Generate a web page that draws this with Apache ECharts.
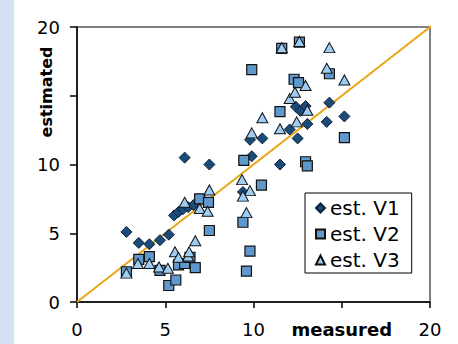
<!DOCTYPE html>
<html>
<head>
<meta charset="utf-8">
<script src="https://cdn.jsdelivr.net/npm/echarts@6/dist/echarts.min.js"></script>
<style>
  html, body { margin: 0; padding: 0; background: #fff; }
  #chart { width: 458px; height: 344px; }
</style>
</head>
<body>
<div id="chart"></div>
<script>
// data: [measured, estimated]
var estV1 = [
  [2.8, 5.1], [3.5, 4.3], [4.1, 4.2], [4.7, 4.5], [5.2, 4.9],
  [5.5, 6.3], [5.75, 6.55], [6.0, 6.75], [6.3, 6.9], [6.6, 7.05],
  [6.1, 10.5], [7.5, 10.0], [9.4, 8.0], [9.8, 11.8], [9.9, 10.6],
  [10.5, 11.9], [11.5, 10.0], [12.05, 12.55], [12.5, 11.9], [12.4, 14.2],
  [12.65, 13.9], [12.95, 14.25], [13.05, 12.95], [14.15, 13.1], [14.3, 14.5],
  [15.15, 13.5]
]
var estV2 = [
  [2.8, 2.2], [3.5, 3.1], [4.1, 3.3], [4.7, 2.3], [5.2, 1.2],
  [5.6, 1.6], [5.75, 2.7], [6.1, 2.8], [6.4, 3.25], [6.7, 2.5],
  [6.95, 7.5], [7.45, 7.25], [7.5, 5.2], [9.4, 5.8], [9.6, 2.25],
  [9.8, 3.7], [9.45, 10.3], [10.45, 8.5], [9.9, 16.9], [11.6, 18.45],
  [12.6, 18.9], [12.3, 16.2], [12.55, 15.95], [14.3, 16.6], [11.5, 13.85],
  [12.95, 10.2], [13.05, 9.9], [15.15, 11.95]
]
var estV3 = [
  [2.8, 2.1], [3.45, 2.8], [4.1, 2.8], [4.65, 2.55], [5.15, 2.45],
  [5.55, 3.65], [5.75, 3.25], [6.3, 3.35], [6.35, 3.65], [6.7, 4.45],
  [6.1, 7.25], [6.95, 6.8], [7.4, 6.6], [7.5, 8.15], [9.35, 8.9],
  [9.8, 8.1], [9.4, 7.7], [9.6, 6.5], [9.9, 12.3], [10.5, 13.4],
  [11.5, 12.6], [12.45, 13.1], [12.05, 14.8], [12.35, 15.25], [12.95, 15.75],
  [13.05, 13.95], [11.6, 18.5], [12.6, 18.95], [14.3, 18.5], [14.15, 17.0],
  [15.15, 16.15]
]
// 1:1 line
var diagLine = [[0, 0], [20.3, 20.3]]
var seriesNames = ['est. V1', 'est. V2', 'est. V3']
var xTickLabels = ['0', '5', '10', 'measured', '20']
var yTickLabels = ['0', '5', '10', '', '20']

var myChart = echarts.init(document.getElementById('chart'), null, { renderer: 'svg' })

var font = 'DejaVu Sans'

var option = {
  animation: false,
  graphic: [
    {
      type: 'rect',
      shape: { x: 0, y: 0, width: 14, height: 344 },
      style: { fill: '#d5e0f5' },
      z: -10,
    },
    {
      type: 'text',
      x: 46,
      y: 92,
      rotation: Math.PI / 2,
      style: {
        text: 'estimated',
        fontFamily: font,
        fontSize: 16,
        fontWeight: 'bold',
        fill: '#000',
        align: 'center',
        verticalAlign: 'middle',
      },
    },
  ],
  grid: {
    left: 77,
    right: 28,
    top: 27,
    bottom: 42,
    show: true,
    borderColor: '#808080',
    borderWidth: 2,
  },
  legend: {
    data: seriesNames,
    orient: 'vertical',
    left: 305,
    top: 193,
    padding: [5, 12, 3, 10],
    itemGap: 6,
    itemWidth: 9,
    itemHeight: 9,
    borderColor: '#000',
    borderWidth: 1,
    backgroundColor: '#fff',
    textStyle: {
      fontFamily: font,
      fontSize: 20,
      lineHeight: 20,
      color: '#000',
    },
  },
  xAxis: {
    type: 'value',
    min: 0,
    max: 20,
    interval: 5,
    splitLine: { show: false },
    axisLine: { show: true, lineStyle: { color: '#000', width: 1.5 } },
    axisTick: { show: true, inside: false, length: 6, lineStyle: { color: '#000', width: 1.5 } },
    axisLabel: {
      margin: 18,
      fontFamily: font,
      fontSize: 18,
      color: '#000',
      formatter: function (v) {
        var s = xTickLabels[Math.round(v / 5)]
        return v === 15 ? '{b|' + s + '}' : s
      },
      rich: {
        b: { fontFamily: font, fontSize: 18, fontWeight: 'bold', color: '#000' },
      },
    },
  },
  yAxis: {
    type: 'value',
    min: 0,
    max: 20,
    interval: 5,
    splitLine: { show: false },
    axisLine: { show: true, lineStyle: { color: '#000', width: 1.5 } },
    axisTick: { show: true, inside: false, length: 7, lineStyle: { color: '#000', width: 1.5 } },
    axisLabel: {
      margin: 17,
      fontFamily: font,
      fontSize: 18,
      color: '#000',
      formatter: function (v) {
        return yTickLabels[Math.round(v / 5)]
      },
    },
  },
  series: [
    {
      name: '1:1',
      type: 'line',
      data: diagLine,
      showSymbol: false,
      clip: false,
      lineStyle: { color: '#e9a515', width: 2 },
      z: 1,
    },
    {
      name: seriesNames[0],
      type: 'scatter',
      symbol: 'diamond',
      symbolSize: [11, 11],
      data: estV1,
      itemStyle: { color: '#1b4b78', borderColor: '#0d2238', borderWidth: 1, opacity: 1 },
      z: 2,
    },
    {
      name: seriesNames[1],
      type: 'scatter',
      symbol: 'rect',
      symbolSize: [10, 10],
      data: estV2,
      itemStyle: { color: '#5f98cc', borderColor: '#111', borderWidth: 1.2, opacity: 1 },
      z: 3,
    },
    {
      name: seriesNames[2],
      type: 'scatter',
      symbol: 'triangle',
      symbolSize: [11, 10],
      data: estV3,
      itemStyle: { color: '#9dcdf5', borderColor: '#111', borderWidth: 1, opacity: 1 },
      z: 4,
    },
  ],
}

option && myChart.setOption(option)
window.addEventListener('resize', function () {
  myChart.resize()
})
</script>
</body>
</html>
